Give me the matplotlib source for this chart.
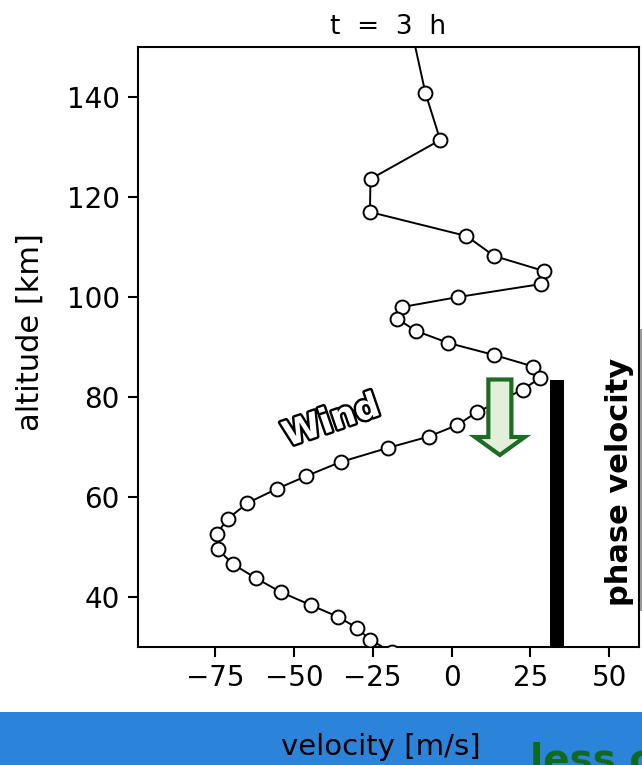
import matplotlib.pyplot as plt
import matplotlib.patheffects as pe
from matplotlib.patches import FancyArrow
from matplotlib.lines import Line2D

# wind profile at t = 3 h
altitude = [152.0, 140.8, 131.4, 123.6, 117.0, 112.2, 108.2, 105.2, 102.6, 100.0,
            98.0, 95.6, 93.2, 90.8, 88.4, 86.1, 83.8, 81.5, 79.2, 77.0,
            74.4, 72.1, 69.8, 67.0, 64.2, 61.6, 58.8, 55.6, 52.6, 49.6,
            46.6, 43.8, 41.0, 38.4, 36.0, 33.8, 31.5, 29.0]
wind = [-12.2, -8.3, -3.6, -25.7, -25.9, 4.7, 13.5, 29.3, 28.4, 2.1,
        -15.6, -17.2, -11.2, -1.0, 13.5, 25.9, 28.1, 22.5, 15.4, 8.1,
        1.8, -7.2, -20.3, -35.2, -46.0, -55.5, -64.7, -71.0, -74.5, -74.1,
        -69.4, -62.1, -54.2, -44.7, -35.9, -29.9, -26.0, -19.0]

# phase velocity of the wave and the altitude it reaches
phase_speed = 33.4
phase_top = 83.4

xticks = [-75, -50, -25, 0, 25, 50]
yticks = [40, 60, 80, 100, 120, 140]

W, H = 642, 765
fig = plt.figure(figsize=(W / 100, H / 100), dpi=100)
ax = fig.add_axes([138 / W, 1 - 647 / H, 501 / W, 600 / H])

ax.plot(wind, altitude, color='black', lw=1.4, marker='o', ms=10,
        mfc='white', mec='black', mew=1.4, zorder=3)

# thick bar marking the phase velocity
ax.bar(phase_speed, phase_top, width=4.6, bottom=0, color='black', zorder=2)

# downward arrow
arrow = FancyArrow(15.3, 83.5, 0, -15.1, width=7.3, head_width=15.8,
                   head_length=3.6, length_includes_head=True,
                   facecolor='#E2F0D9', edgecolor='#1E6B24', lw=3,
                   joinstyle='miter', zorder=5)
ax.add_patch(arrow)

ax.text(-38.1, 75.2, 'Wind', rotation=19, ha='center', va='center',
        fontsize=25, fontweight='bold', color='white', zorder=6,
        path_effects=[pe.withStroke(linewidth=3.5, foreground='black')])

ax.set_xlim(-99.4, 59.4)
ax.set_ylim(30, 150)
ax.set_xticks(xticks)
ax.set_yticks(yticks)
ax.tick_params(direction='out', length=7, width=1.5, labelsize=20)
ax.tick_params(axis='y', pad=6)
ax.tick_params(axis='x', pad=5)
for side in ax.spines:
    ax.spines[side].set_linewidth(1.5)
ax.set_title('t  =  3  h', fontsize=19, pad=9)

fig.text(30 / W, 1 - 332 / H, 'altitude [km]', rotation=90,
         ha='center', va='center', fontsize=22)
fig.text(620 / W, 1 - 482 / H, 'phase velocity', rotation=90,
         ha='center', va='center', fontsize=22, fontweight='bold')
fig.lines.append(Line2D([640.5 / W, 640.5 / W], [1 - 330 / H, 1 - 610 / H],
                        transform=fig.transFigure, color='#9A9A9A', lw=1.5))

# slide strip along the bottom
strip = fig.add_axes([0, 0, 1, 53 / H])
strip.set_facecolor('#2C84DA')
strip.set_xticks([])
strip.set_yticks([])
for side in strip.spines:
    strip.spines[side].set_visible(False)
strip.text(381 / W, 18 / 53, 'velocity [m/s]', transform=strip.transAxes,
           ha='center', va='center', fontsize=21)
strip.text(530 / W, 23 / 53, 'less c', transform=strip.transAxes,
           ha='left', va='top', fontsize=28, fontweight='bold', color='#0F6A1F',
           clip_on=True)

fig.savefig('out.png', dpi=100)
